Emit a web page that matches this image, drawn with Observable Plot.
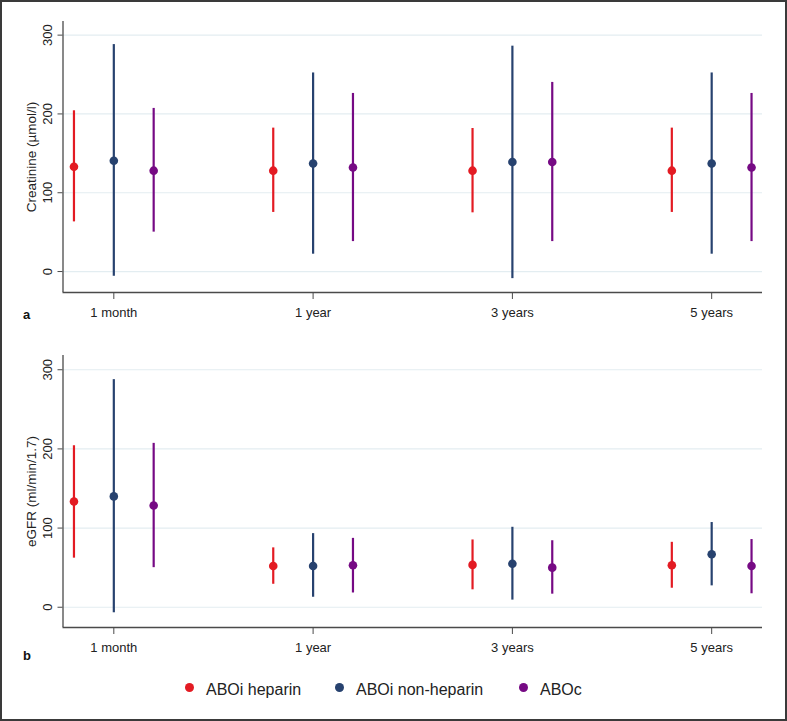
<!DOCTYPE html>
<html>
<head>
<meta charset="utf-8">
<script src="https://cdn.jsdelivr.net/npm/d3@7"></script>
<script src="https://cdn.jsdelivr.net/npm/@observablehq/plot@0.6"></script>
<style>
  html, body { margin: 0; padding: 0; background: #fff; }
  #page { position: relative; width: 787px; height: 721px; overflow: hidden;
          font-family: "Liberation Sans", Arial, Helvetica, sans-serif; background: #fff; }
  #border { position: absolute; left: 0; top: 0; width: 787px; height: 721px; box-sizing: border-box;
            border: 2px solid #3a3a3a; pointer-events: none; }
  .panel { position: absolute; left: 0; }
  .tag { position: absolute; font-weight: bold; font-size: 13px; color: #111; line-height: 1; }
  .legItem { position: absolute; font-size: 16px; color: #222; line-height: 1; white-space: nowrap; }
  .legDot { position: absolute; width: 9px; height: 9px; border-radius: 50%; }
</style>
</head>
<body>
<div id="page">
  <div id="top" class="panel" style="top:0px"></div>
  <div id="bottom" class="panel" style="top:340px"></div>
  <div class="tag" style="left:23px; top:308px">a</div>
  <div class="tag" style="left:23px; top:649px">b</div>
  <div id="legend"></div>
  <div id="border"></div>
</div>
<script>
// ---- data ----
const timepoints = ["1 month", "1 year", "3 years", "5 years"];
const groups = ["ABOi heparin", "ABOi non-heparin", "ABOc"];
const groupColors = ["#e31b23", "#27426f", "#760a84"];
const yTicks = [0, 100, 200, 300];

// Panel a: Creatinine (µmol/l)
const creatHeparinMean = [133, 128, 128, 128];
const creatHeparinLow  = [63, 75, 74.5, 75];
const creatHeparinHigh = [204, 182, 181.5, 182];
const creatNonHepMean  = [140.5, 137, 139, 137];
const creatNonHepLow   = [-6, 22, -9, 22];
const creatNonHepHigh  = [288, 252, 286, 252];
const creatABOcMean    = [128, 132, 139, 132];
const creatABOcLow     = [50, 38, 38, 38];
const creatABOcHigh    = [207, 226, 240, 226];

// Panel b: eGFR (ml/min/1.7)
const egfrHeparinMean = [133.5, 52, 53.5, 53];
const egfrHeparinLow  = [62, 29, 22, 24];
const egfrHeparinHigh = [204, 75, 85, 82];
const egfrNonHepMean  = [140, 52, 55, 67];
const egfrNonHepLow   = [-7, 12.6, 9, 27];
const egfrNonHepHigh  = [287.5, 93, 101, 107];
const egfrABOcMean    = [128.5, 53, 50, 52];
const egfrABOcLow     = [50, 18, 16.5, 17];
const egfrABOcHigh    = [207, 87, 84, 85.5];

const groupOffsets = [-0.2, 0, 0.2];
const xDomain = [0.745, 4.255];

function buildRows(series) {
  const rows = [];
  series.forEach(([mean, lo, hi], g) => {
    timepoints.forEach((t, i) => {
      rows.push({pos: i + 1 + groupOffsets[g], group: groups[g], mean: mean[i], lo: lo[i], hi: hi[i]});
    });
  });
  return rows;
}

const creatRows = buildRows([
  [creatHeparinMean, creatHeparinLow, creatHeparinHigh],
  [creatNonHepMean, creatNonHepLow, creatNonHepHigh],
  [creatABOcMean, creatABOcLow, creatABOcHigh]
]);
const egfrRows = buildRows([
  [egfrHeparinMean, egfrHeparinLow, egfrHeparinHigh],
  [egfrNonHepMean, egfrNonHepLow, egfrNonHepHigh],
  [egfrABOcMean, egfrABOcLow, egfrABOcHigh]
]);

function panel(rows, yDomain, height, marginTop, marginBottom, ylabel) {
  return Plot.plot({
    width: 787,
    height,
    marginLeft: 62.5,
    marginRight: 25,
    marginTop,
    marginBottom,
    style: {fontFamily: '"Liberation Sans", Arial, Helvetica, sans-serif', fontSize: "13px", color: "#222", background: "transparent"},
    x: {domain: xDomain},
    y: {domain: yDomain},
    color: {domain: groups, range: groupColors},
    marks: [
      Plot.gridY(yTicks, {stroke: "#e3edf1", strokeOpacity: 1, strokeWidth: 1.2}),
      Plot.ruleX([xDomain[0]], {stroke: "#4a4a4a", strokeWidth: 1.3}),
      Plot.ruleY([yDomain[0]], {stroke: "#4a4a4a", strokeWidth: 1.3}),
      Plot.axisY(yTicks, {tickSize: 5, tickRotate: -90, tickPadding: 6, stroke: "#4a4a4a", label: null, fontSize: 13}),
      Plot.axisX([1, 2, 3, 4], {tickSize: 7, tickPadding: 8, stroke: "#4a4a4a", label: null, fontSize: 13,
                                tickFormat: (d) => timepoints[d - 1]}),
      Plot.text([ylabel], {frameAnchor: "left", dx: -31.5, rotate: -90, textAnchor: "middle", lineAnchor: "middle",
                           fontSize: 13.5, fill: "#222"}),
      Plot.ruleX(rows, {x: "pos", y1: "lo", y2: "hi", stroke: "group", strokeWidth: 2.2}),
      Plot.dot(rows, {x: "pos", y: "mean", r: 4.3, fill: "group", stroke: "none"})
    ]
  });
}

document.getElementById("top").append(panel(creatRows, [-26.6, 317.3], 330, 21, 38, "Creatinine (µmol/l)"));
document.getElementById("bottom").append(panel(egfrRows, [-25.6, 318], 330, 15, 43, "eGFR (ml/min/1.7)"));

// ---- legend ----
const legendDotX = [189, 339, 523];
const legendTextX = [206, 356, 540];
const legend = document.getElementById("legend");
groups.forEach((g, i) => {
  const dot = document.createElement("div");
  dot.className = "legDot";
  dot.style.left = (legendDotX[i] - 4.5) + "px";
  dot.style.top = (687 - 4.5) + "px";
  dot.style.background = groupColors[i];
  legend.append(dot);
  const t = document.createElement("div");
  t.className = "legItem";
  t.style.left = legendTextX[i] + "px";
  t.style.top = "682px";
  t.textContent = g;
  legend.append(t);
});
</script>
</body>
</html>
